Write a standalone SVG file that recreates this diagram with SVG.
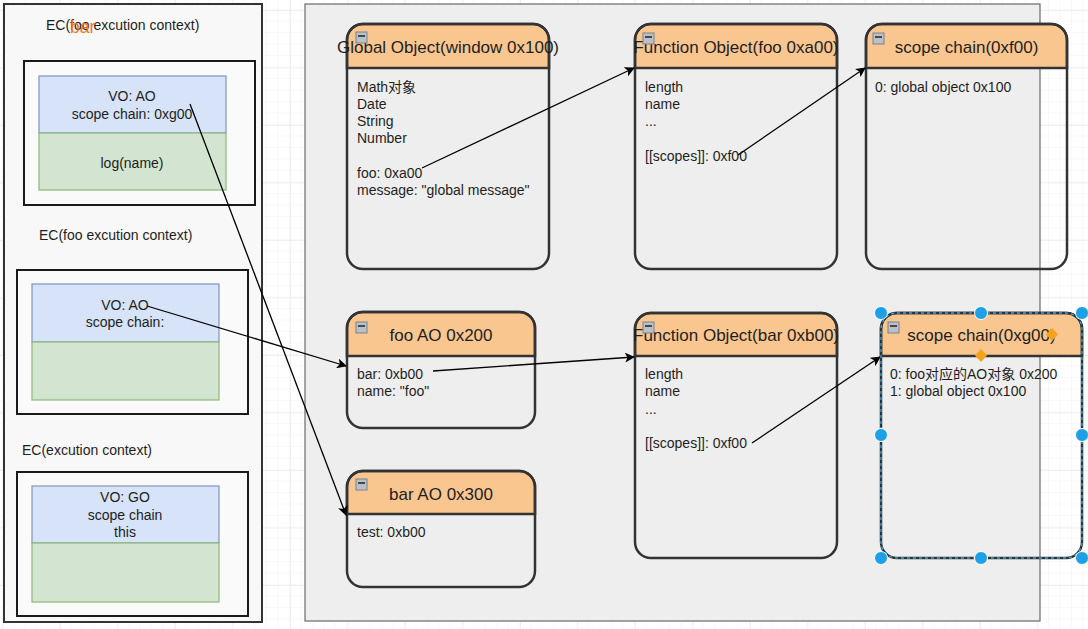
<svg xmlns="http://www.w3.org/2000/svg" width="1088" height="629" viewBox="0 0 1088 629">
<defs>
<pattern id="minor" width="11.5" height="11.5" patternUnits="userSpaceOnUse" x="2.5" y="10">
<path d="M11.5 0V11.5M0 11.5H11.5" fill="none" stroke="#f3f3f3" stroke-width="1"/>
</pattern>
<pattern id="major" width="57.5" height="57.5" patternUnits="userSpaceOnUse" x="2.5" y="10">
<path d="M0 0V57.5M0 0H57.5" fill="none" stroke="#e2e2e2" stroke-width="1"/>
</pattern>
<marker id="arr" viewBox="0 0 10 10" refX="9" refY="5" markerWidth="10" markerHeight="10" markerUnits="userSpaceOnUse" orient="auto">
<path d="M0 0L10 5L0 10L2.5 5Z" fill="#000"/>
</marker>
<g id="icon"><rect x="0" y="0" width="11" height="11" fill="#b9c0c8" stroke="#7a828a" stroke-width="1"/><line x1="2" y1="4" x2="9" y2="4" stroke="#222" stroke-width="1.5"/></g>
</defs>
<style>
text{font-family:"Liberation Sans",Arial,"Noto Sans CJK SC",sans-serif;fill:#1e1e1e}
.t{font-size:14px}
.h{font-size:17px;text-anchor:middle}
.c{text-anchor:middle}
.box{fill:none;stroke:#333;stroke-width:2.5}
.hdr{fill:#f9c690;stroke:#333;stroke-width:2.5}
.ec{fill:#fafafa;stroke:#1a1a1a;stroke-width:2}
.vo{fill:#d6e3f8;stroke:#7d97c2;stroke-width:1.2}
.fn{fill:#d3e5d1;stroke:#8cb878;stroke-width:1.2}
.edge{fill:none;stroke:#000;stroke-width:1.3;marker-end:url(#arr)}
.hd{fill:#1ea0e6;stroke:#ffffff;stroke-width:1}
.dm{fill:#f5a31a}
.or{font-size:17.5px;fill:#f07420}
</style>
<rect width="1088" height="629" fill="#ffffff"/>
<rect width="1088" height="629" fill="url(#minor)"/>
<rect width="1088" height="629" fill="url(#major)"/>

<g id="left-panel">
<rect x="4" y="4" width="258" height="618" fill="#f8f8f8" stroke="#333" stroke-width="2"/>
</g>
<g id="ec-bar">
<text class="t" x="46" y="30">EC(foo excution context)</text>
<text class="or" x="70" y="32.5">bar</text>
<rect class="ec" x="24" y="61" width="231" height="144"/>
<rect class="vo" x="39" y="76" width="187" height="57"/>
<rect class="fn" x="39" y="133" width="187" height="57"/>
<text class="t c" x="132" y="101">VO: AO</text>
<text class="t c" x="132" y="119">scope chain: 0xg00</text>
<text class="t c" x="132" y="167.5">log(name)</text>
</g>
<g id="ec-foo">
<text class="t" x="39" y="240">EC(foo excution context)</text>
<rect class="ec" x="17" y="270" width="231" height="144"/>
<rect class="vo" x="32" y="284" width="187" height="58"/>
<rect class="fn" x="32" y="342" width="187" height="58"/>
<text class="t c" x="125" y="310">VO: AO</text>
<text class="t c" x="125" y="326.5">scope chain:</text>
</g>
<g id="ec-global">
<text class="t" x="22" y="455">EC(excution context)</text>
<rect class="ec" x="17" y="472" width="231" height="144"/>
<rect class="vo" x="32" y="486" width="187" height="57"/>
<rect class="fn" x="32" y="543" width="187" height="59"/>
<text class="t c" x="125" y="502">VO: GO</text>
<text class="t c" x="125" y="519.5">scope chain</text>
<text class="t c" x="125" y="537">this</text>
</g>

<g id="heap-panel">
<rect x="305" y="4" width="735" height="617" fill="#eeeeee" stroke="#6a6a6a" stroke-width="1.2"/>
</g>

<g id="global-object">
<path class="hdr" d="M347 68V40A16 16 0 0 1 363 24H533A16 16 0 0 1 549 40V68Z"/>
<rect class="box" x="347" y="24" width="202" height="245" rx="16"/>
<text class="h" x="448" y="53">Global Object(window 0x100)</text>
<use href="#icon" x="356" y="32"/>
<text class="t" x="357" y="91.5">Math对象<tspan x="357" dy="17.25">Date</tspan><tspan x="357" dy="17.25">String</tspan><tspan x="357" dy="17.25">Number</tspan><tspan x="357" dy="34.5">foo: 0xa00</tspan><tspan x="357" dy="17.25">message: "global message"</tspan></text>
</g>

<g id="function-foo">
<path class="hdr" d="M635 68V40A16 16 0 0 1 651 24H821A16 16 0 0 1 837 40V68Z"/>
<rect class="box" x="635" y="24" width="202" height="245" rx="16"/>
<text class="h" x="736" y="53">Function Object(foo 0xa00)</text>
<use href="#icon" x="643" y="33"/>
<text class="t" x="645" y="91.5">length<tspan x="645" dy="17.25">name</tspan><tspan x="645" dy="17.25">...</tspan><tspan x="645" dy="34.5">[[scopes]]: 0xf00</tspan></text>
</g>

<g id="scope-chain-f00">
<path class="hdr" d="M866 68V40A16 16 0 0 1 882 24H1051A16 16 0 0 1 1067 40V68Z"/>
<rect class="box" x="866" y="24" width="201" height="245" rx="16"/>
<text class="h" x="966.5" y="53">scope chain(0xf00)</text>
<use href="#icon" x="873" y="33"/>
<text class="t" x="875" y="91.5">0: global object 0x100</text>
</g>

<g id="foo-ao">
<path class="hdr" d="M347 356V328A16 16 0 0 1 363 312H519A16 16 0 0 1 535 328V356Z"/>
<rect class="box" x="347" y="312" width="188" height="116" rx="16"/>
<text class="h" x="441" y="341">foo AO 0x200</text>
<use href="#icon" x="356" y="322"/>
<text class="t" x="357" y="379">bar: 0xb00<tspan x="357" dy="17.25">name: "foo"</tspan></text>
</g>

<g id="bar-ao">
<path class="hdr" d="M347 514V487A16 16 0 0 1 363 471H519A16 16 0 0 1 535 487V514Z"/>
<rect class="box" x="347" y="471" width="188" height="116" rx="16"/>
<text class="h" x="441" y="500">bar AO 0x300</text>
<use href="#icon" x="356" y="479"/>
<text class="t" x="357" y="537">test: 0xb00</text>
</g>

<g id="function-bar">
<path class="hdr" d="M635 356V329A16 16 0 0 1 651 313H821A16 16 0 0 1 837 329V356Z"/>
<rect class="box" x="635" y="313" width="202" height="245" rx="16"/>
<text class="h" x="736" y="341">Function Object(bar 0xb00)</text>
<use href="#icon" x="643" y="322"/>
<text class="t" x="645" y="379">length<tspan x="645" dy="17.25">name</tspan><tspan x="645" dy="17.25">...</tspan><tspan x="645" dy="34.5">[[scopes]]: 0xf00</tspan></text>
</g>

<g id="scope-chain-g00">
<path class="hdr" d="M881 356V329A16 16 0 0 1 897 313H1066A16 16 0 0 1 1082 329V356Z"/>
<rect class="box" x="881" y="313" width="201" height="245" rx="16"/>
<text class="h" x="981.5" y="341">scope chain(0xg00)</text>
<use href="#icon" x="888" y="322"/>
<text class="t" x="890" y="379">0: foo对应的AO对象 0x200<tspan x="890" dy="17.25">1: global object 0x100</tspan></text>
</g>

<g id="connectors">
<path class="edge" d="M422 168L634 68"/>
<path class="edge" d="M738 155L865 68"/>
<path class="edge" d="M190 104L346 515"/>
<path class="edge" d="M147 306L346 366"/>
<path class="edge" d="M433 371L634 357"/>
<path class="edge" d="M752 443L880 357"/>
</g>

<g id="selection">
<rect x="881" y="313" width="201" height="245" rx="16" fill="none" stroke="#2aa8ee" stroke-width="1.3" stroke-dasharray="3 3"/>
<circle class="hd" cx="881" cy="313" r="6.5"/>
<circle class="hd" cx="981" cy="313" r="6.5"/>
<circle class="hd" cx="1082" cy="313" r="6.5"/>
<circle class="hd" cx="881" cy="435" r="6.5"/>
<circle class="hd" cx="1082" cy="435" r="6.5"/>
<circle class="hd" cx="881" cy="558" r="6.5"/>
<circle class="hd" cx="981" cy="558" r="6.5"/>
<circle class="hd" cx="1082" cy="558" r="6.5"/>
<path class="dm" d="M981 349L987 355.5L981 362L975 355.5Z"/>
<path class="dm" d="M1052 328L1058 334.5L1052 341L1046 334.5Z"/>
</g>
</svg>
